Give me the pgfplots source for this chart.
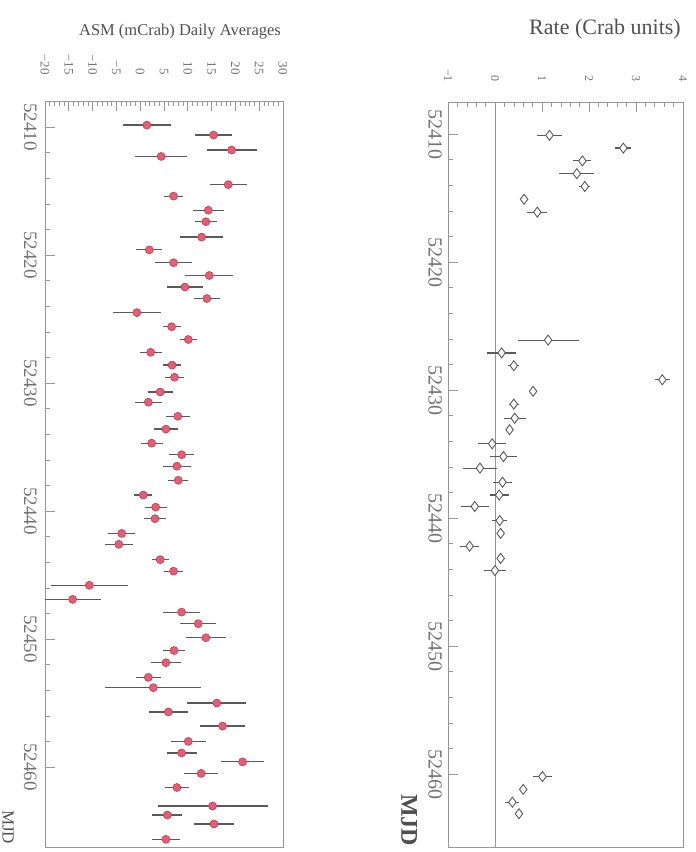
\documentclass[border=0pt]{standalone}
\usepackage{pgfplots}
\usepackage{pgfplotstable}
\pgfplotsset{compat=1.18}
\usepackage{fontspec}
\setmainfont{Liberation Serif}
\definecolor{frame}{RGB}{150,150,150}
\definecolor{ticklab}{RGB}{115,115,115}
\definecolor{titlec}{RGB}{80,80,80}
\definecolor{ebar}{RGB}{90,90,90}
\definecolor{pinkfill}{RGB}{228,95,115}
\definecolor{pinkdraw}{RGB}{190,60,85}

% t = MJD - 52400
\pgfplotstableread{
t v e
9.85 1.4 5.1
10.63 15.4 3.9
11.8 19.2 5.25
12.3 4.4 5.4
14.5 18.5 3.9
15.4 7.0 2.0
16.5 14.3 3.3
17.4 13.8 2.3
18.6 12.9 4.5
19.6 1.9 2.7
20.6 7.0 3.8
21.6 14.5 5.1
22.5 9.4 3.7
23.4 14.0 2.8
24.5 -0.7 5.1
25.6 6.6 1.9
26.6 10.1 1.75
27.6 2.2 2.3
28.6 6.7 1.9
29.55 7.2 1.9
30.7 4.2 2.6
31.5 1.7 2.8
32.6 7.9 2.5
33.6 5.4 2.6
34.7 2.4 2.3
35.6 8.7 2.6
36.5 7.7 3.0
37.6 8.0 2.1
38.75 0.65 1.9
39.7 3.25 2.3
40.6 3.1 2.4
41.75 -3.9 2.8
42.6 -4.5 2.9
43.8 4.2 1.75
44.7 7.0 1.9
45.8 -10.7 8.05
46.9 -14.2 5.95
47.9 8.7 3.85
48.8 12.2 3.8
49.9 13.8 4.2
50.9 7.1 2.3
51.85 5.4 3.15
53.0 1.7 2.6
53.8 2.75 10.1
55.0 16.1 6.2
55.7 5.9 4.1
56.8 17.3 4.7
58.0 10.1 3.7
58.9 8.7 3.15
59.6 21.5 4.45
60.5 12.8 3.5
61.6 7.7 2.55
63.05 15.2 11.55
63.75 5.7 3.15
64.45 15.5 4.3
65.65 5.4 3.0
}\asmdata

\pgfplotstableread{
t v e
10.1 1.16 0.27
11.1 2.73 0.17
12.1 1.86 0.19
13.1 1.74 0.37
14.1 1.91 0.12
15.1 0.62 0.08
16.1 0.90 0.21
26.1 1.13 0.65
27.1 0.14 0.30
28.1 0.40 0.12
29.2 3.56 0.16
30.1 0.81 0.08
31.1 0.40 0.11
32.2 0.42 0.23
33.1 0.31 0.08
34.2 -0.06 0.30
35.2 0.18 0.28
36.1 -0.32 0.37
37.2 0.16 0.20
38.2 0.09 0.20
39.1 -0.43 0.30
40.2 0.10 0.16
41.2 0.12 0.08
42.2 -0.54 0.20
43.15 0.12 0.08
44.1 0.00 0.23
60.2 1.01 0.20
61.2 0.60 0.08
62.2 0.37 0.15
63.1 0.51 0.08
}\ratedata

\pgfplotsset{rotpanel/.style={
  scale only axis, y dir=reverse,
  axis line style={frame, line width=0.8pt},
  xtick pos=right, xticklabel pos=right, ytick pos=left,
  tick style={frame, line width=0.6pt},
  major tick length=10pt, minor tick length=5pt,
  ytick={10,20,30,40,50,60},
  yticklabels={52410,52420,52430,52440,52450,52460},
  minor y tick num=4,
  yticklabel style={rotate=-90, anchor=north, inner sep=0pt, text=ticklab,
    font=\fontsize{19}{19}\selectfont},
  xticklabel style={rotate=-90, anchor=east, inner sep=0pt, text=ticklab,
    font=\fontsize{13}{13}\selectfont},
}}

\begin{document}
\begin{tikzpicture}
\useasboundingbox (0,0) rectangle (696pt,-852pt);

% Left panel: ASM daily averages
\begin{axis}[rotpanel,
  at={(45pt,-101pt)}, anchor=north west,
  width=238pt, height=746pt,
  xmin=-20, xmax=30, ymin=7.97, ymax=66.25,
  xtick={-20,-15,...,30},
  xticklabels={−20,−15,−10,−5,0,5,10,15,20,25,30},
  minor x tick num=4,
  xticklabel shift=26pt, yticklabel shift=8pt,
]
\addplot[only marks, mark=*, mark size=4pt,
  mark options={fill=pinkfill, draw=pinkdraw, line width=0.6pt},
  error bars/.cd, x dir=both, x explicit, error mark=none,
  error bar style={ebar, line width=1.2pt}]
  table[x=v, y=t, x error=e] {\asmdata};
\end{axis}

% Right panel: Rate (Crab units)
\begin{axis}[rotpanel,
  at={(448pt,-102pt)}, anchor=north west,
  width=235pt, height=745pt,
  xmin=-1, xmax=4, ymin=7.5, ymax=65.7,
  xtick={-1,0,1,2,3,4},
  xticklabels={−1,0,1,2,3,4},
  minor x tick num=4,
  xticklabel shift=20pt, yticklabel shift=6pt,
  xticklabel style={font=\fontsize{12}{12}\selectfont},
  yticklabel style={font=\fontsize{20}{20}\selectfont},
]
\addplot[frame, line width=0.9pt] coordinates {(0,7.5) (0,65.7)};
\addplot[only marks, mark=diamond*, mark size=5pt,
  mark options={fill=white, draw=ebar, line width=0.9pt},
  error bars/.cd, x dir=both, x explicit, error mark=none,
  error bar style={ebar, line width=1.2pt}]
  table[x=v, y=t, x error=e] {\ratedata};
\end{axis}

% Titles and MJD labels
\node[text=titlec, font=\fontsize{16.5}{16.5}\selectfont] at (180pt,-32pt) {ASM (mCrab) Daily Averages};
\node[text=titlec, font=\fontsize{22}{22}\selectfont] at (605pt,-29pt) {Rate (Crab units)};
\node[text=titlec, rotate=-90, font=\fontsize{17}{17}\selectfont] at (8pt,-827pt) {MJD};
\node[text=titlec, rotate=-90, font=\bfseries\fontsize{24}{24}\selectfont] at (409pt,-820pt) {MJD};
\end{tikzpicture}
\end{document}
